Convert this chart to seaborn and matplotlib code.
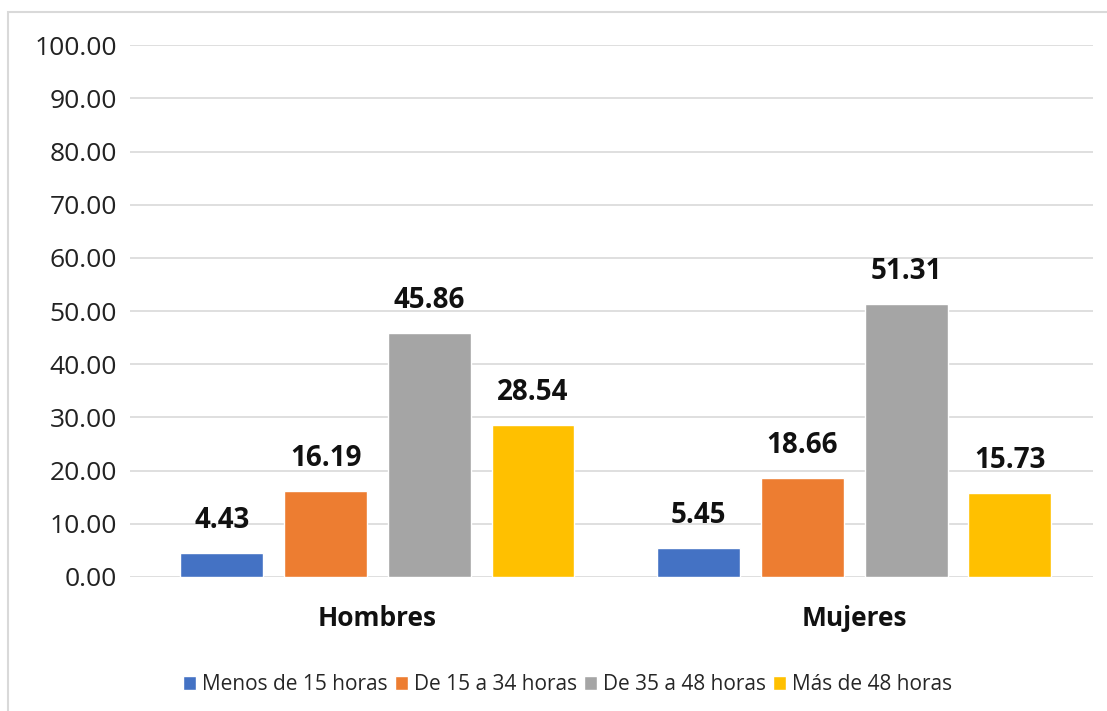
import pandas as pd
import matplotlib.pyplot as plt
import seaborn as sns
from matplotlib.patches import Rectangle

# values
sexo = ['Hombres', 'Mujeres']
rangos = ['Menos de 15 horas', 'De 15 a 34 horas', 'De 35 a 48 horas', 'Más de 48 horas']
hombres = [4.43, 16.19, 45.86, 28.54]
mujeres = [5.45, 18.66, 51.31, 15.73]
colores = ['#4472C4', '#ED7D31', '#A5A5A5', '#FFC000']

df = pd.DataFrame({
    'sexo': ['Hombres'] * 4 + ['Mujeres'] * 4,
    'rango': rangos * 2,
    'pct': hombres + mujeres,
})

sns.set_style('white')
plt.rcParams['font.family'] = ['Open Sans', 'DejaVu Sans']

fig = plt.figure(figsize=(11.07, 7.11), dpi=100)
ax = fig.add_axes([0.117, 0.1885, 0.870, 0.748])

sns.barplot(data=df, x='sexo', y='pct', hue='rango', order=sexo, hue_order=rangos,
            palette=colores, width=0.87, gap=0.2, saturation=1, ax=ax)

for cont in ax.containers:
    ax.bar_label(cont, fmt='%.2f', padding=13, fontsize=20, fontweight='bold', color='#111111')

ax.set_ylim(0, 100)
ax.set_xlim(-0.52, 1.5)
ax.set_yticks(range(0, 101, 10))
ax.set_yticklabels([f'{v:.2f}' for v in range(0, 101, 10)], fontsize=19, color='#222222')
ax.set_xticks([0, 1])
ax.set_xticklabels(sexo, fontsize=19, fontweight='bold', color='#111111')
ax.tick_params(axis='y', length=0, pad=9)
ax.tick_params(axis='x', length=0, pad=20)
ax.yaxis.grid(True, color='#D9D9D9', linewidth=1.2)
ax.set_axisbelow(True)
for s in ax.spines.values():
    s.set_visible(False)
ax.set_xlabel('')
ax.set_ylabel('')

ax.legend(loc='center', bbox_to_anchor=(0.455, -0.203), ncol=4, frameon=False,
          fontsize=15, handlelength=0.6, handleheight=0.6, handletextpad=0.3,
          columnspacing=0.35)

# light frame around the chart
fig.patches.append(Rectangle((0.007, -0.01), 1.0, 0.993, transform=fig.transFigure,
                             fill=False, edgecolor='#D9D9D9', linewidth=1.5))

plt.savefig('out.png', dpi=100)
